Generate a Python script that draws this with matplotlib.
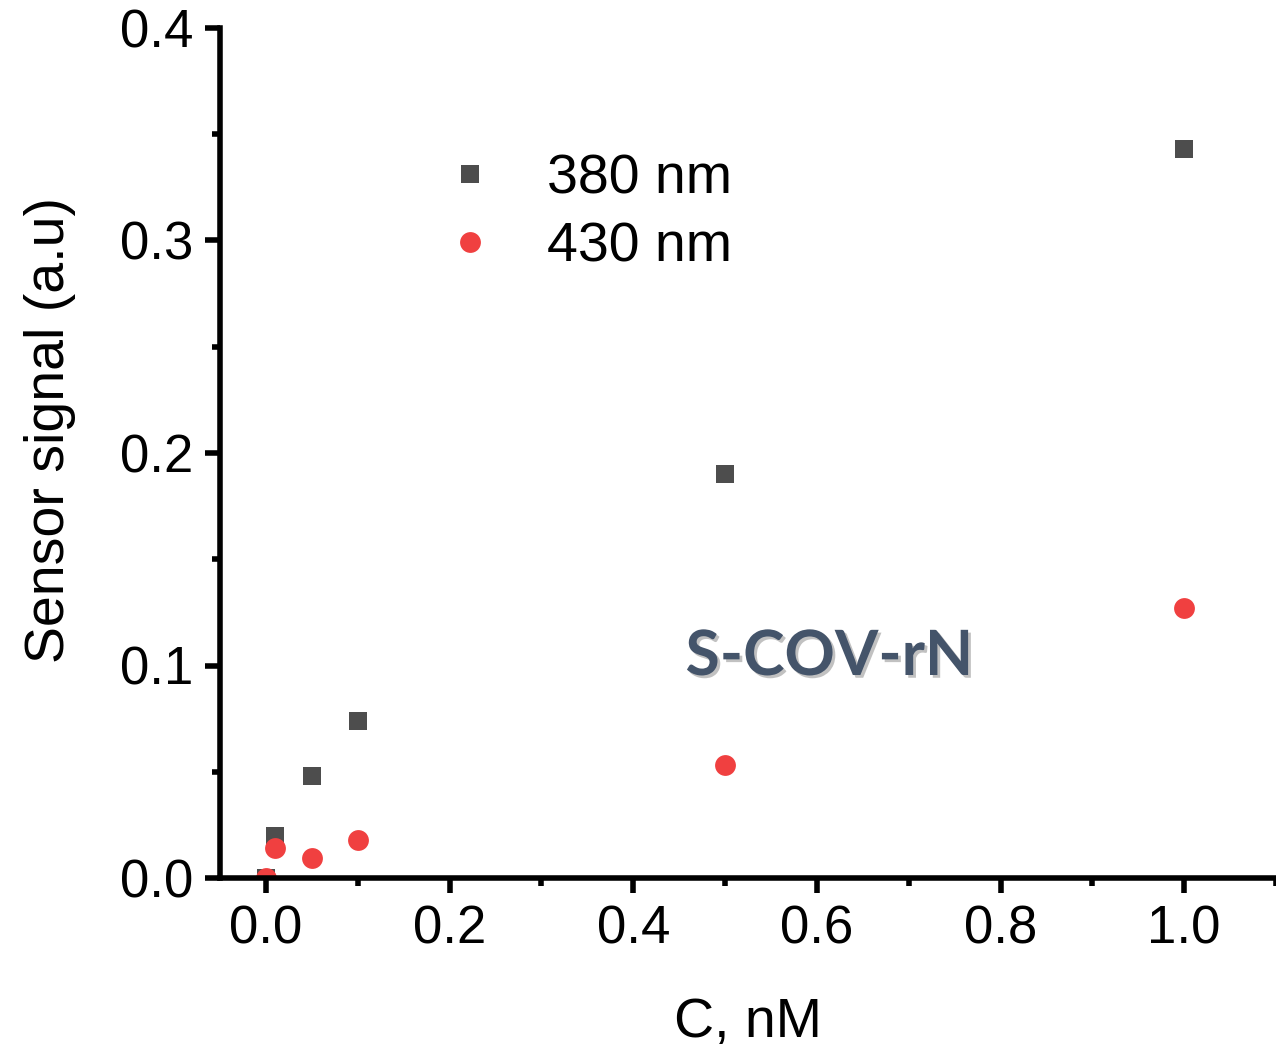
import matplotlib
matplotlib.use("Agg")
import matplotlib.pyplot as plt
import matplotlib.patheffects as pe
from matplotlib.ticker import MultipleLocator

plt.rcParams['font.family'] = ['Liberation Sans', 'DejaVu Sans']

conc = [0.0, 0.01, 0.05, 0.1, 0.5, 1.0]
sig_380 = [0.0, 0.020, 0.048, 0.074, 0.190, 0.343]
sig_430 = [0.0, 0.014, 0.0095, 0.018, 0.053, 0.127]
labels = ["380 nm", "430 nm"]

W, H = 1276, 1049
fig = plt.figure(figsize=(W / 100, H / 100), dpi=100)
ax = fig.add_axes([220 / W, 1 - 878 / H, (1276 - 220) / W, (878 - 28) / H])

ax.plot(conc, sig_380, linestyle='none', marker='s', markersize=13.5,
        color='#4d4d4d', markeredgewidth=0, label=labels[0])
ax.plot(conc, sig_430, linestyle='none', marker='o', markersize=15,
        color='#f04040', markeredgewidth=0, label=labels[1])

ax.set_xlim(-0.05, 1.1)
ax.set_ylim(0, 0.4)
ax.xaxis.set_major_locator(MultipleLocator(0.2))
ax.xaxis.set_minor_locator(MultipleLocator(0.1))
ax.yaxis.set_major_locator(MultipleLocator(0.1))
ax.yaxis.set_minor_locator(MultipleLocator(0.05))
ax.xaxis.set_major_formatter(matplotlib.ticker.FormatStrFormatter('%.1f'))
ax.yaxis.set_major_formatter(matplotlib.ticker.FormatStrFormatter('%.1f'))

for s in ['top', 'right']:
    ax.spines[s].set_visible(False)
for s in ['left', 'bottom']:
    ax.spines[s].set_linewidth(4)

ax.tick_params(which='major', direction='out', length=11, width=4,
               labelsize=38, pad=8)
ax.tick_params(which='minor', direction='out', length=5.5, width=4)

ax.set_xlabel("C, nM", fontsize=40, labelpad=31)
fig.text(50 / W, 1 - 430 / H, "Sensor signal (a.u)", rotation=90,
         fontsize=40, ha='center', va='center')

leg = ax.legend(loc='upper left', bbox_to_anchor=(0.21, 0.852), frameon=False,
                fontsize=40, handletextpad=0.9, labelspacing=0.29,
                handlelength=1.0, borderpad=0, borderaxespad=0)

ax.text(0.577, 0.26, "S-COV-rN", transform=ax.transAxes, fontsize=45,
        fontweight='bold', family=['Lato', 'DejaVu Sans'], color='#44546a',
        ha='center', va='center',
        path_effects=[pe.withSimplePatchShadow(offset=(2, -2), shadow_rgbFace='#999999', alpha=0.6)])

fig.savefig("out.png", dpi=100)
